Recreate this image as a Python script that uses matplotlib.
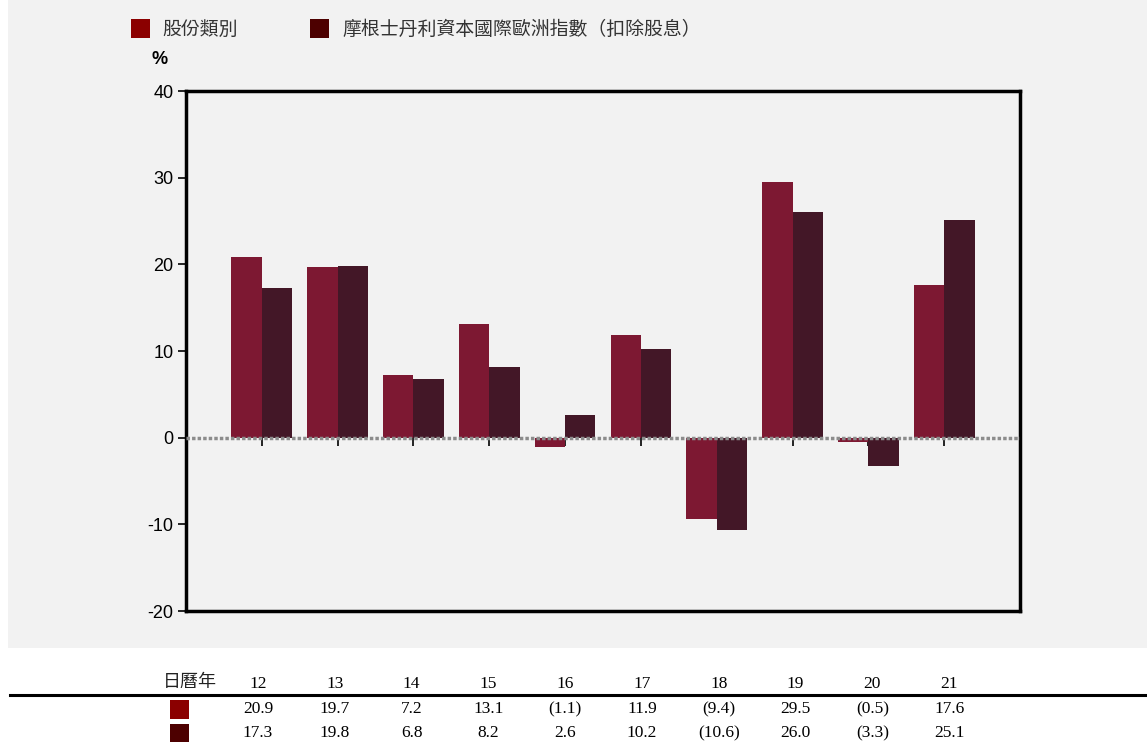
import matplotlib.pyplot as plt
import matplotlib.patches as mpatches
import numpy as np

plt.rcParams['font.family'] = ['Liberation Sans', 'Noto Sans CJK TC', 'DejaVu Sans']
plt.rcParams['axes.unicode_minus'] = False

years = ["12", "13", "14", "15", "16", "17", "18", "19", "20", "21"]
share_class = [20.9, 19.7, 7.2, 13.1, -1.1, 11.9, -9.4, 29.5, -0.5, 17.6]
msci_europe = [17.3, 19.8, 6.8, 8.2, 2.6, 10.2, -10.6, 26.0, -3.3, 25.1]
series_names = ["股份類別", "摩根士丹利資本國際歐洲指數（扣除股息）"]
row_header = "日曆年"

bar_colors = ["#7d1832", "#431727"]
key_colors = ["#8b0000", "#4d0000"]
bg = "#f2f2f2"
W, H = 1147, 742

def fmt(v):
	if v < 0:
		return "(%.1f)" % abs(v)
	return "%.1f" % v

fig = plt.figure(figsize=(W / 100, H / 100), dpi=100)
fig.patch.set_facecolor("white")
fig.patches.append(mpatches.Rectangle((8 / W, 94 / H), 1 - 8 / W, 1 - 94 / H,
	transform=fig.transFigure, facecolor=bg, edgecolor="none", zorder=-10))

ax = fig.add_axes([186 / W, 131 / H, 834 / W, 520 / H])
ax.set_facecolor(bg)
x = np.arange(len(years))
w = 0.4
ax.bar(x - w / 2, share_class, w, color=bar_colors[0], zorder=2)
ax.bar(x + w / 2, msci_europe, w, color=bar_colors[1], zorder=2)
ax.axhline(0, color="#8c8c8c", linestyle=(0, (1, 0.6)), linewidth=2.5, zorder=3)

ax.set_xlim(-1, len(years))
ax.set_ylim(-20, 40)
ax.set_yticks([-20, -10, 0, 10, 20, 30, 40])
ax.tick_params(axis="y", direction="out", length=6, width=1.2, labelsize=13, pad=3)
ax.set_xticks([])
for s in ax.spines.values():
	s.set_linewidth(2.5)
	s.set_color("black")

# category ticks hanging from the zero line
sec = ax.secondary_xaxis(20 / 60)
sec.set_xticks(x)
sec.set_xticklabels([])
sec.tick_params(direction="out", length=6, width=1.2)
sec.spines["bottom"].set_visible(False)

fig.text(160 / W, 1 - 60 / H, "%", fontsize=13, fontweight="bold", ha="center", va="center")

# legend at top
leg_x = [131, 310]
txt_x = [162, 342]
for i in range(2):
	fig.patches.append(mpatches.Rectangle((leg_x[i] / W, 1 - 38 / H), 19 / W, 19 / H,
		transform=fig.transFigure, facecolor=key_colors[i], edgecolor="none"))
	fig.text(txt_x[i] / W, 1 - 29 / H, series_names[i], fontsize=13.6,
		color="#333333", ha="left", va="center", family=["Noto Sans CJK TC", "DejaVu Sans"])

# data table below
serif = ["Liberation Serif", "Noto Sans CJK TC"]
fig.text(190 / W, 1 - 682 / H, row_header, fontsize=13, ha="center", va="center",
	family=["Noto Sans CJK TC"], color="#222222")
for i, yr in enumerate(years):
	cx = (258 + i * 76.8) / W
	fig.text(cx, 1 - 684 / H, yr, fontsize=12.5, ha="center", va="center", family=serif)
	fig.text(cx, 1 - 709 / H, fmt(share_class[i]), fontsize=12.5, ha="center", va="center", family=serif)
	fig.text(cx, 1 - 733 / H, fmt(msci_europe[i]), fontsize=12.5, ha="center", va="center", family=serif)

fig.add_artist(plt.Line2D([10 / W, 1], [1 - 695 / H, 1 - 695 / H], color="black",
	linewidth=2.2, transform=fig.transFigure))
for i, yc in enumerate([709, 733]):
	fig.patches.append(mpatches.Rectangle((170 / W, 1 - (yc + 10) / H), 19 / W, 19 / H,
		transform=fig.transFigure, facecolor=key_colors[i], edgecolor="none"))

fig.savefig("out.png", dpi=100, facecolor=fig.get_facecolor())
